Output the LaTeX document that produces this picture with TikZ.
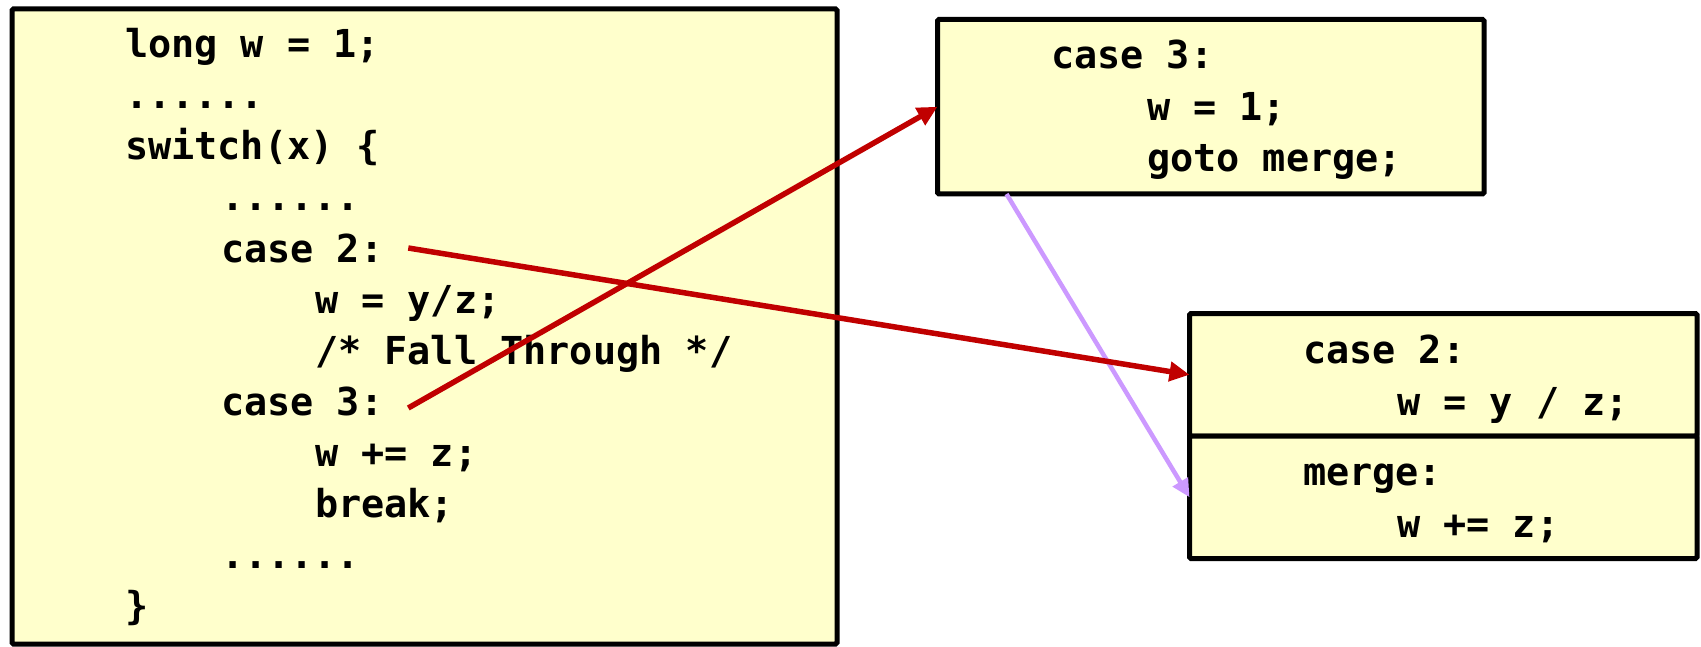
\documentclass[tikz,border=0pt]{standalone}
\usepackage{fontspec}
\setmonofont{DejaVu Sans Mono}
\usetikzlibrary{arrows.meta,calc}
\definecolor{boxfill}{HTML}{FFFFCC}
\definecolor{arrred}{HTML}{C00000}
\definecolor{arrpurple}{HTML}{CC99FF}
\begin{document}
\begin{tikzpicture}[x=1pt,y=-1pt,
  codebox/.style={draw=black,line width=5pt,fill=boxfill,rounded corners=1.5pt,anchor=north west,inner sep=0pt,outer sep=0pt},
  code/.style={anchor=base west,inner sep=0pt,outer sep=0pt,font=\fontsize{38.5}{46}\selectfont\ttfamily\bfseries},
  redarrow/.style={draw=arrred,line width=5.5pt,-{Triangle[length=20pt,width=19pt]}},
  purplearrow/.style={draw=arrpurple,line width=4.5pt,-{Triangle[length=18pt,width=17pt]}}]
\useasboundingbox (0,0) rectangle (1701,647);
% boxes
\node[codebox,minimum width=825pt,minimum height=635pt] (main) at (12,9) {};
\node[codebox,minimum width=546.5pt,minimum height=174.5pt] (b3) at (937.5,19.5) {};
\node[codebox,minimum width=507.5pt,minimum height=122.5pt] (b2top) at (1189.5,313.5) {};
\node[codebox,minimum width=507.5pt,minimum height=122.5pt] (b2bot) at (1189.5,436) {};
% left code
\node[code] (l0) at (125,58) {long w = 1;};
\node[code] (l1) at (125,109) {......};
\node[code] (l2) at (125,160) {switch(x) \{};
\node[code] (l3) at (221,211) {......};
\node[code] (l4) at (221,262) {case 2:};
\node[code] (l5) at (315,313) {w = y/z;};
\node[code] (l6) at (315,364) {/* Fall Through */};
\node[code] (l7) at (221,415) {case 3:};
\node[code] (l8) at (315,466) {w += z;};
\node[code] (l9) at (315,517) {break;};
\node[code] (l10) at (221,568) {......};
\node[code] (l11) at (125,619) {\}};
% box 3 code
\node[code] (t0) at (1051,69) {case 3:};
\node[code] (t1) at (1147,121) {w = 1;};
\node[code] (t2) at (1147,172) {goto merge;};
% box 2 code
\node[code] (u0) at (1303,363) {case 2:};
\node[code] (u1) at (1397,415) {w = y / z;};
\node[code] (u2) at (1303,485) {merge:};
\node[code] (u3) at (1397,537) {w += z;};
% arrows
\draw[purplearrow] ([xshift=69pt]b3.south west) -- (b2bot.west);
\draw[redarrow] ([xshift=25pt,yshift=14pt]l4.base east) -- (b2top.west);
\draw[redarrow] ([xshift=25pt,yshift=7pt]l7.base east) -- (b3.west);
\end{tikzpicture}
\end{document}
